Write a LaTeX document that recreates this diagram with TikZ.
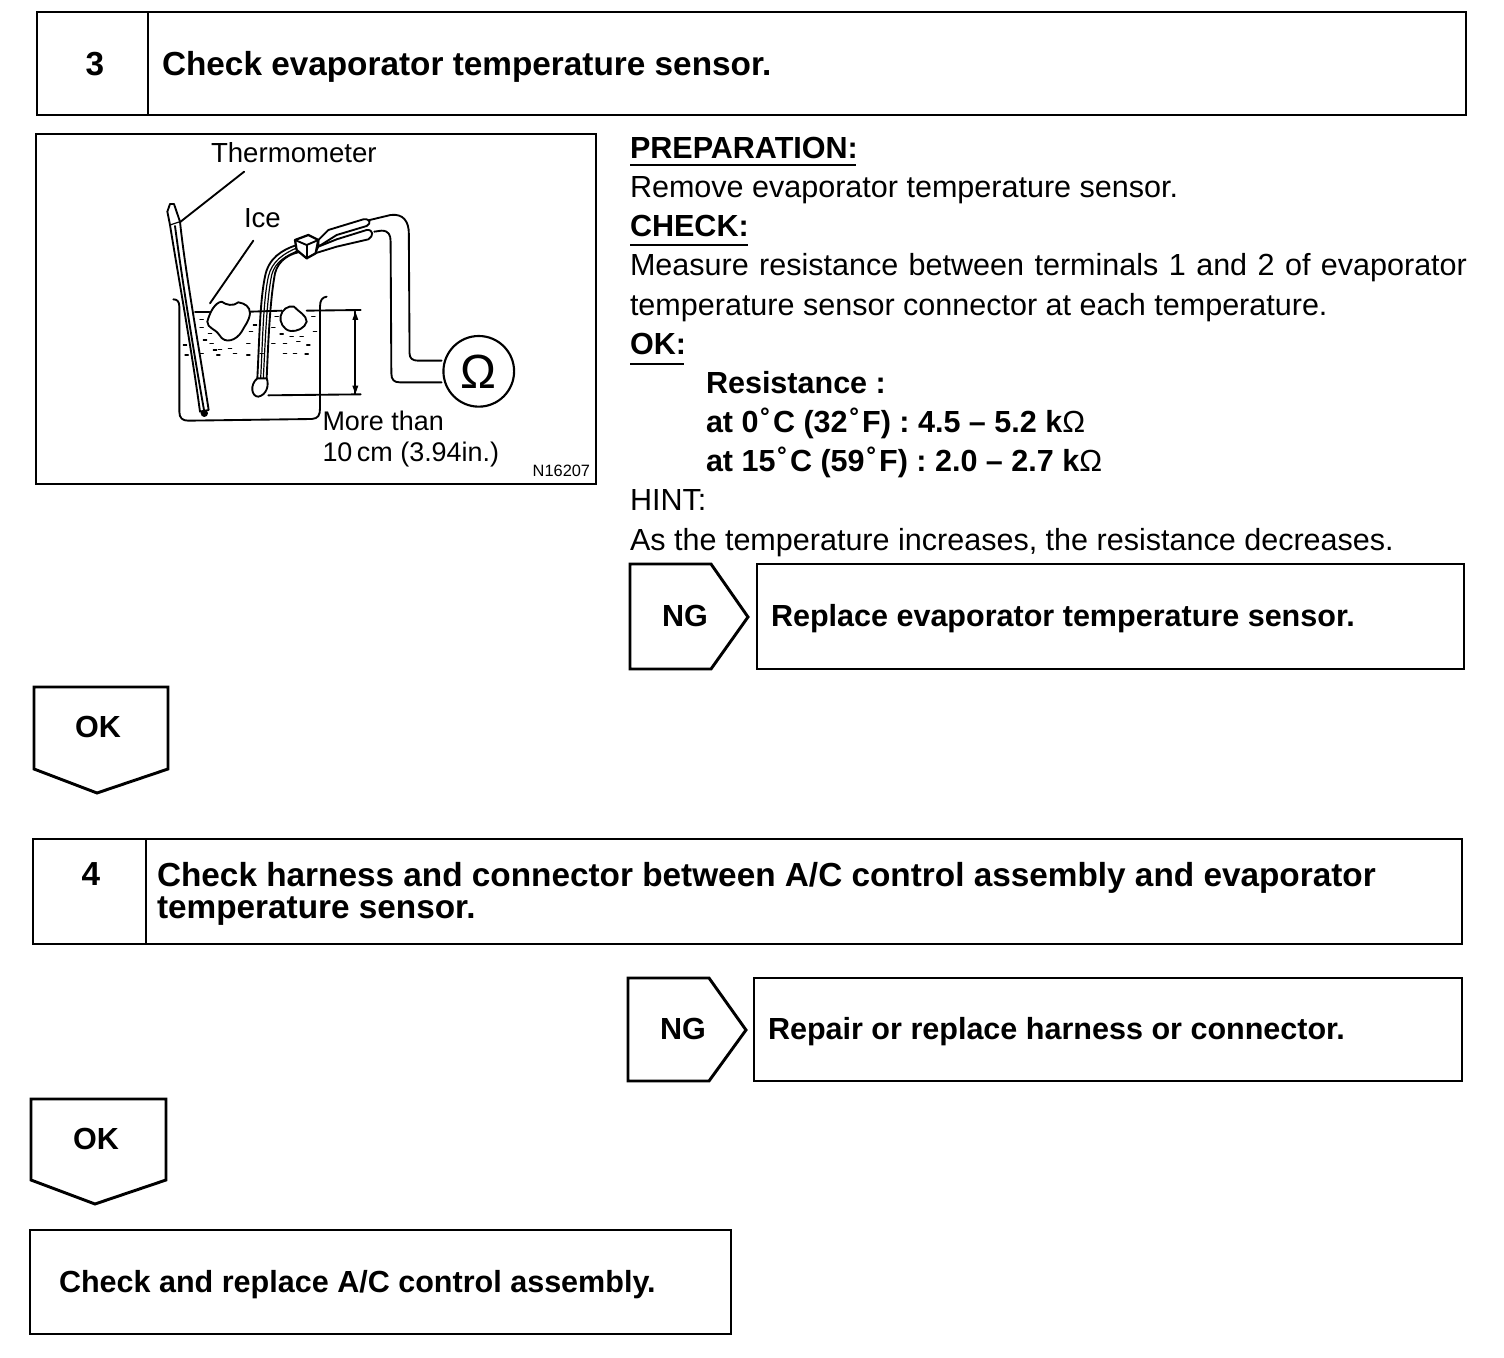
\documentclass[tikz,border=0pt]{standalone}
\usepackage{fontspec}
\setmainfont{Liberation Sans}
\newcommand{\bigb}{\fontsize{25}{25}\selectfont\bfseries}
\newcommand{\medr}{\fontsize{22.9}{22.9}\selectfont}
\newcommand{\illf}{\fontsize{20.7}{20.7}\selectfont}
\newcommand{\degr}{\kern1.6pt˚\kern1.6pt}
\begin{document}
\begin{tikzpicture}[x=0.75pt,y=-0.75pt,
  frame/.style={draw=black,line width=2.2pt,line join=miter},
  wire/.style={draw=black,line width=1.4pt,line cap=round,line join=round},
  fine/.style={draw=black,line width=0.9pt,line cap=round},
  txt/.style={anchor=base west,inner sep=0pt,outer sep=0pt,text=black},
  ctr/.style={anchor=base,inner sep=0pt,outer sep=0pt,text=black},
  under/.style={draw=black,line width=1.2pt}]
\useasboundingbox[fill=white] (0,0) rectangle (1504,1358);

% step 3
\draw[frame] (37,12) rectangle (1466,115);
\draw[frame] (148,12) -- (148,115);
\node[ctr,font=\bigb] (n3) at (95,76) {3};
\node[txt,font=\bigb] (t3) at (162,76) {Check evaporator temperature sensor.};

% illustration frame
\draw[frame] (36,134) rectangle (596,484);

% right column
\node[txt,font=\medr\bfseries] (prep) at (630,159) {PREPARATION:};
\draw[under] (630,165) -- (856,165);
\node[txt,font=\medr] (rem) at (630,198) {Remove evaporator temperature sensor.};
\node[txt,font=\medr\bfseries] (chk) at (630,237) {CHECK:};
\draw[under] (630,245) -- (748,245);
\node[txt,font=\medr] (meas) at (630,276) {\makebox[627.75pt][s]{Measure resistance between terminals 1 and 2 of evaporator}};
\node[txt,font=\medr] (meas2) at (630,316) {temperature sensor connector at each temperature.};
\node[txt,font=\medr\bfseries] (ok) at (630,355) {OK:};
\draw[under] (630,364) -- (684,364);
\node[txt,font=\medr\bfseries] (res) at (706,394) {Resistance :};
\node[txt,font=\medr\bfseries] (r0) at (706,433) {at 0\degr C (32\degr F) : 4.5 – 5.2 k{\mdseries Ω}};
\node[txt,font=\medr\bfseries] (r15) at (706,472) {at 15\degr C (59\degr F) : 2.0 – 2.7 k{\mdseries Ω}};
\node[txt,font=\medr] (hint) at (630,511) {HINT:};
\node[txt,font=\medr] (as) at (630,551) {As the temperature increases, the resistance decreases.};

% NG 1
\draw[frame] (630,564) -- (711,564) -- (748,617) -- (711,669) -- (630,669) -- cycle;
\node[ctr,font=\medr\bfseries] (ng1) at (685,627) {NG};
\draw[frame] (757,564) rectangle (1464,669);
\node[txt,font=\medr\bfseries] (ng1t) at (771,627) {Replace evaporator temperature sensor.};

% OK 1
\draw[frame] (34,687) -- (168,687) -- (168,769) -- (97,793) -- (34,769) -- cycle;
\node[ctr,font=\medr\bfseries] (ok1) at (98,738) {OK};

% step 4
\draw[frame] (33,839) rectangle (1462,944);
\draw[frame] (146,839) -- (146,944);
\node[ctr,font=\bigb] (n4) at (91,885) {4};
\node[txt,font=\bigb] (t4a) at (157,886) {Check harness and connector between A/C control assembly and evaporator};
\node[txt,font=\bigb] (t4b) at (157,918) {temperature sensor.};

% NG 2
\draw[frame] (628,978) -- (709,978) -- (746,1030) -- (709,1081) -- (628,1081) -- cycle;
\node[ctr,font=\medr\bfseries] (ng2) at (683,1039) {NG};
\draw[frame] (754,978) rectangle (1462,1081);
\node[txt,font=\medr\bfseries] (ng2t) at (768,1039) {Repair or replace harness or connector.};

% OK 2
\draw[frame] (31,1099) -- (166,1099) -- (166,1180) -- (95,1204) -- (31,1180) -- cycle;
\node[ctr,font=\medr\bfseries] (ok2) at (96,1149) {OK};

% final
\draw[frame] (30,1230) rectangle (731,1334);
\node[txt,font=\medr\bfseries] (fin) at (59,1292) {Check and replace A/C control assembly.};

% illustration: labels, meter and meter wires
\begin{scope}[shift={(30,130)},x=0.2732pt,y=-0.25pt]
  \node[txt,font=\illf] (therm) at (497,99) {Thermometer};
  \node[txt,font=\fontsize{20.2}{20.2}\selectfont] (more) at (803,903) {More than};
  \node[txt,font=\fontsize{20.2}{20.2}\selectfont] (ten) at (803,996) {10\,cm (3.94in.)};
  \node[txt,font=\fontsize{12.3}{12.3}\selectfont] (code) at (1380,1040) {N16207};
  \draw[wire] (925,272) -- (990,255) .. controls (1025,250) and (1040,275) .. (1040,310) -- (1042,670)
     .. controls (1042,685) and (1050,692) .. (1065,692) -- (1130,692);
  \draw[wire] (945,305) -- (965,302) .. controls (985,302) and (990,315) .. (990,335) -- (992,730)
     .. controls (992,750) and (1000,757) .. (1015,757) -- (1130,757);
  \node[circle,draw=black,line width=1.6pt,minimum size=53pt,inner sep=0pt,font=\fontsize{36}{36}\selectfont] (ohm) at (1232,724) {Ω};
  \coordinate (thermstart) at (588,125);
\end{scope}

% illustration: vessel, probes
\begin{scope}[shift={(150,190)},x=0.25pt,y=-0.25pt]
  \node[txt,font=\illf] (ice) at (282,112) {Ice};
  \coordinate (thermend) at (88,98);
  \coordinate (icestart) at (310,152);
  \coordinate (iceend) at (180,340);
  \draw[wire] (thermstart) -- (thermend);
  \draw[wire] (icestart) -- (iceend);
  % water marks
  \foreach \a/\b in {150/388,150/412,175/430,190/480,235/475,290/460,298/425,310/405,375/380,485/380,365/412,390/432,420/440,450/440,490/425,365/460,400/460,440/455,470/465,150/490,200/495,250/490,290/495,330/490,400/490,430/490,100/465,105/495,180/460,205/478,465/492,160/450}
    \draw[fine] (\a,\b) -- ++(10,0);
  % container
  \draw[wire] (70,328) .. controls (82,328) and (88,335) .. (88,350) -- (88,665)
     .. controls (88,685) and (98,692) .. (115,692) -- (485,687)
     .. controls (505,686) and (510,675) .. (510,655) -- (510,350)
     .. controls (510,330) and (517,322) .. (530,320);
  % water surface
  \draw[wire] (135,367) -- (178,367);
  \draw[wire] (302,365) -- (395,362);
  \draw[wire] (470,362) -- (632,360);
  % thermometer
  \draw[wire,fill=white] (52,65) -- (60,42) -- (72,42) -- (90,95) .. controls (105,240) and (145,460) .. (176,660)
     -- (150,665) .. controls (125,480) and (85,260) .. (60,105) -- cycle;
  \draw[wire] (75,108) .. controls (95,260) and (130,480) .. (162,660);
  \draw[fine] (60,105) -- (90,95);
  \fill (163,670) circle [radius=11];
  % ice
  \draw[wire,fill=white] (172,395) .. controls (180,365) and (195,338) .. (215,335)
     .. controls (228,345) and (250,350) .. (265,337) .. controls (285,340) and (300,350) .. (300,370)
     .. controls (297,395) and (285,405) .. (275,425) .. controls (260,450) and (225,465) .. (208,435)
     .. controls (195,415) and (172,415) .. (172,395) -- cycle;
  \draw[wire,fill=white] (392,378) .. controls (395,360) and (415,345) .. (432,350)
     .. controls (445,365) and (470,375) .. (470,395) .. controls (465,415) and (440,425) .. (422,423)
     .. controls (400,420) and (388,395) .. (392,378) -- cycle;
  % probe cable
  \draw[wire] (322,565) .. controls (328,450) and (330,330) .. (345,260) .. controls (355,205) and (395,180) .. (440,165);
  \draw[wire] (350,565) .. controls (355,450) and (360,330) .. (375,250) .. controls (385,210) and (420,190) .. (455,185);
  \draw[fine] (332,565) .. controls (338,450) and (340,330) .. (355,260) .. controls (365,215) and (400,190) .. (445,172);
  \draw[fine] (340,565) .. controls (346,450) and (350,330) .. (365,255) .. controls (375,215) and (410,195) .. (450,180);
  \draw[wire,fill=white] (322,565) -- (350,565) .. controls (358,585) and (350,615) .. (325,620)
     .. controls (305,620) and (298,585) .. (322,565) -- cycle;
  % extension and dimension
  \coordinate (dimtop) at (616,365);
  \coordinate (dimbot) at (616,612);
  \draw[wire] (355,616) -- (632,613);
  \draw[wire] (dimtop) -- (dimbot);
  \fill (dimtop) -- ++(-9,25) -- ++(18,0) -- cycle;
  \fill (dimbot) -- ++(-9,-25) -- ++(18,0) -- cycle;
  % probes
  \draw[wire,fill=white] (505,150) -- (535,120) -- (640,88) .. controls (660,85) and (665,100) .. (650,108) -- (560,135) -- (505,170) -- cycle;
  \draw[wire,fill=white] (505,170) -- (560,148) -- (650,120) .. controls (670,118) and (672,138) .. (655,148) -- (560,170) -- (495,190) -- cycle;
  % connector
  \draw[wire,line width=1.7pt,fill=white] (435,150) -- (475,135) -- (505,150) -- (497,190) -- (470,205) -- (440,180) -- cycle;
  \draw[wire] (470,165) -- (505,150);
  \draw[wire] (470,165) -- (435,150);
  \draw[wire] (470,165) -- (470,205);
\end{scope}
\end{tikzpicture}
\end{document}
